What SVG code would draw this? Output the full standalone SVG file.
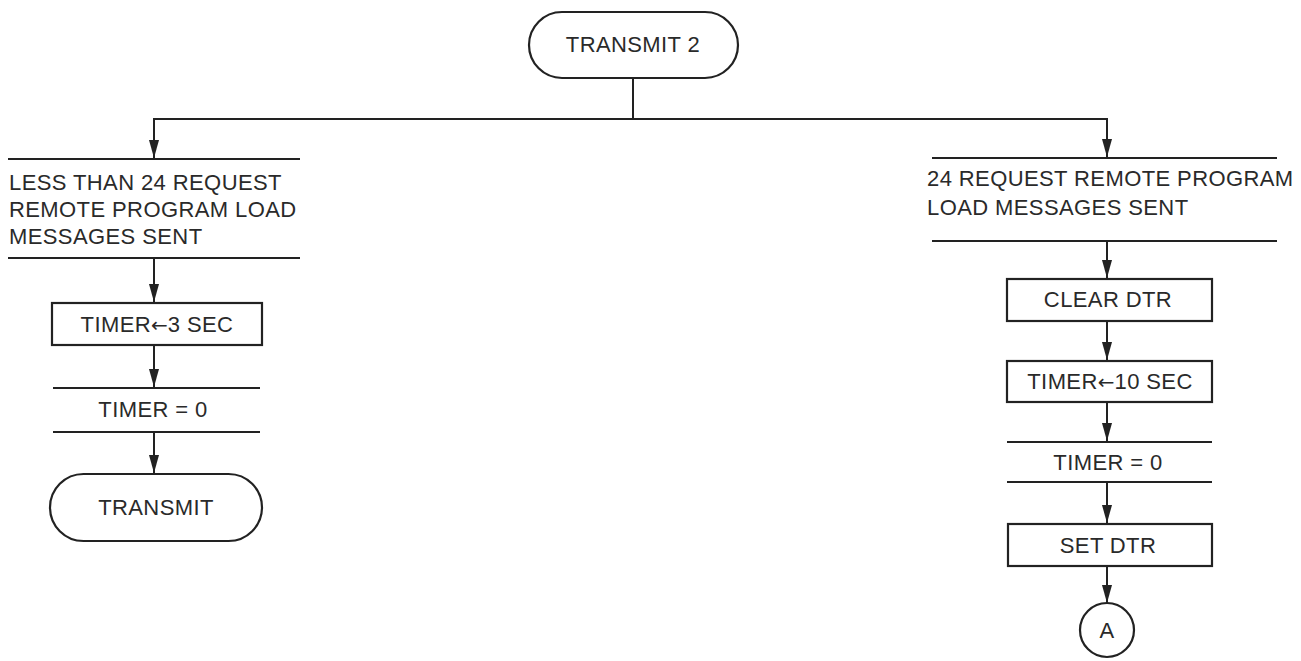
<svg xmlns="http://www.w3.org/2000/svg" width="1301" height="661" viewBox="0 0 1301 661">
<defs>
<marker id="ah" viewBox="0 0 18 10" refX="18" refY="5" markerWidth="18" markerHeight="10" markerUnits="userSpaceOnUse" orient="auto">
<path d="M0,0 L18,5 L0,10 Z" fill="#222"/>
</marker>
</defs>
<style>
.s{fill:none;stroke:#222;stroke-width:2.2}
.t{font-family:"Liberation Sans",Arial,sans-serif;font-size:22px;fill:#2a2a2a;letter-spacing:0.4px}
.c{text-anchor:middle}
.ar{font-family:"DejaVu Sans",sans-serif;font-size:20px;letter-spacing:0}
.e{stroke:#222;stroke-width:2;fill:none}
</style>
<rect width="1301" height="661" fill="#fff"/>
<g id="connectors">
<line class="e" x1="633" y1="78" x2="633" y2="119"/>
<polyline class="e" points="154,119 1107,119"/>
<line class="e" x1="154" y1="118" x2="154" y2="158" marker-end="url(#ah)"/>
<line class="e" x1="1107" y1="118" x2="1107" y2="157" marker-end="url(#ah)"/>
<line class="e" x1="154" y1="258" x2="154" y2="302" marker-end="url(#ah)"/>
<line class="e" x1="154" y1="345" x2="154" y2="387" marker-end="url(#ah)"/>
<line class="e" x1="154" y1="432" x2="154" y2="473" marker-end="url(#ah)"/>
<line class="e" x1="1107" y1="241" x2="1107" y2="278" marker-end="url(#ah)"/>
<line class="e" x1="1107" y1="321" x2="1107" y2="360" marker-end="url(#ah)"/>
<line class="e" x1="1107" y1="402" x2="1107" y2="441" marker-end="url(#ah)"/>
<line class="e" x1="1107" y1="482" x2="1107" y2="523" marker-end="url(#ah)"/>
<line class="e" x1="1107" y1="566" x2="1107" y2="603" marker-end="url(#ah)"/>
</g>
<g id="transmit2">
<rect class="s" x="529" y="12" width="209" height="66" rx="33" ry="33"/>
<text class="t c" x="633" y="52">TRANSMIT 2</text>
</g>
<g id="less24">
<line class="s" x1="8" y1="159" x2="300" y2="159"/>
<line class="s" x1="8" y1="258" x2="300" y2="258"/>
<text class="t" x="9" y="190">LESS THAN 24 REQUEST</text>
<text class="t" x="9" y="217">REMOTE PROGRAM LOAD</text>
<text class="t" x="9" y="244">MESSAGES SENT</text>
</g>
<g id="timer3">
<rect class="s" x="52" y="303" width="210" height="42"/>
<text class="t c" x="157" y="332">TIMER<tspan class="ar">←</tspan>3 SEC</text>
</g>
<g id="timer0left">
<line class="s" x1="53" y1="388" x2="260" y2="388"/>
<line class="s" x1="53" y1="432" x2="260" y2="432"/>
<text class="t c" x="153" y="417">TIMER = 0</text>
</g>
<g id="transmit">
<rect class="s" x="50" y="474" width="212" height="67" rx="33.5" ry="33.5"/>
<text class="t c" x="156" y="515">TRANSMIT</text>
</g>
<g id="req24">
<line class="s" x1="932" y1="158" x2="1277" y2="158"/>
<line class="s" x1="932" y1="241" x2="1277" y2="241"/>
<text class="t" x="927" y="186">24 REQUEST REMOTE PROGRAM</text>
<text class="t" x="927" y="215">LOAD MESSAGES SENT</text>
</g>
<g id="cleardtr">
<rect class="s" x="1007" y="279" width="205" height="42"/>
<text class="t c" x="1108" y="307">CLEAR DTR</text>
</g>
<g id="timer10">
<rect class="s" x="1007" y="361" width="205" height="41"/>
<text class="t c" x="1110" y="389">TIMER<tspan class="ar">←</tspan>10 SEC</text>
</g>
<g id="timer0right">
<line class="s" x1="1007" y1="442" x2="1212" y2="442"/>
<line class="s" x1="1007" y1="482" x2="1212" y2="482"/>
<text class="t c" x="1108" y="470">TIMER = 0</text>
</g>
<g id="setdtr">
<rect class="s" x="1008" y="524" width="204" height="42"/>
<text class="t c" x="1108" y="553">SET DTR</text>
</g>
<g id="connA">
<circle class="s" cx="1107" cy="630" r="27"/>
<text class="t c" x="1107" y="638">A</text>
</g>
</svg>
